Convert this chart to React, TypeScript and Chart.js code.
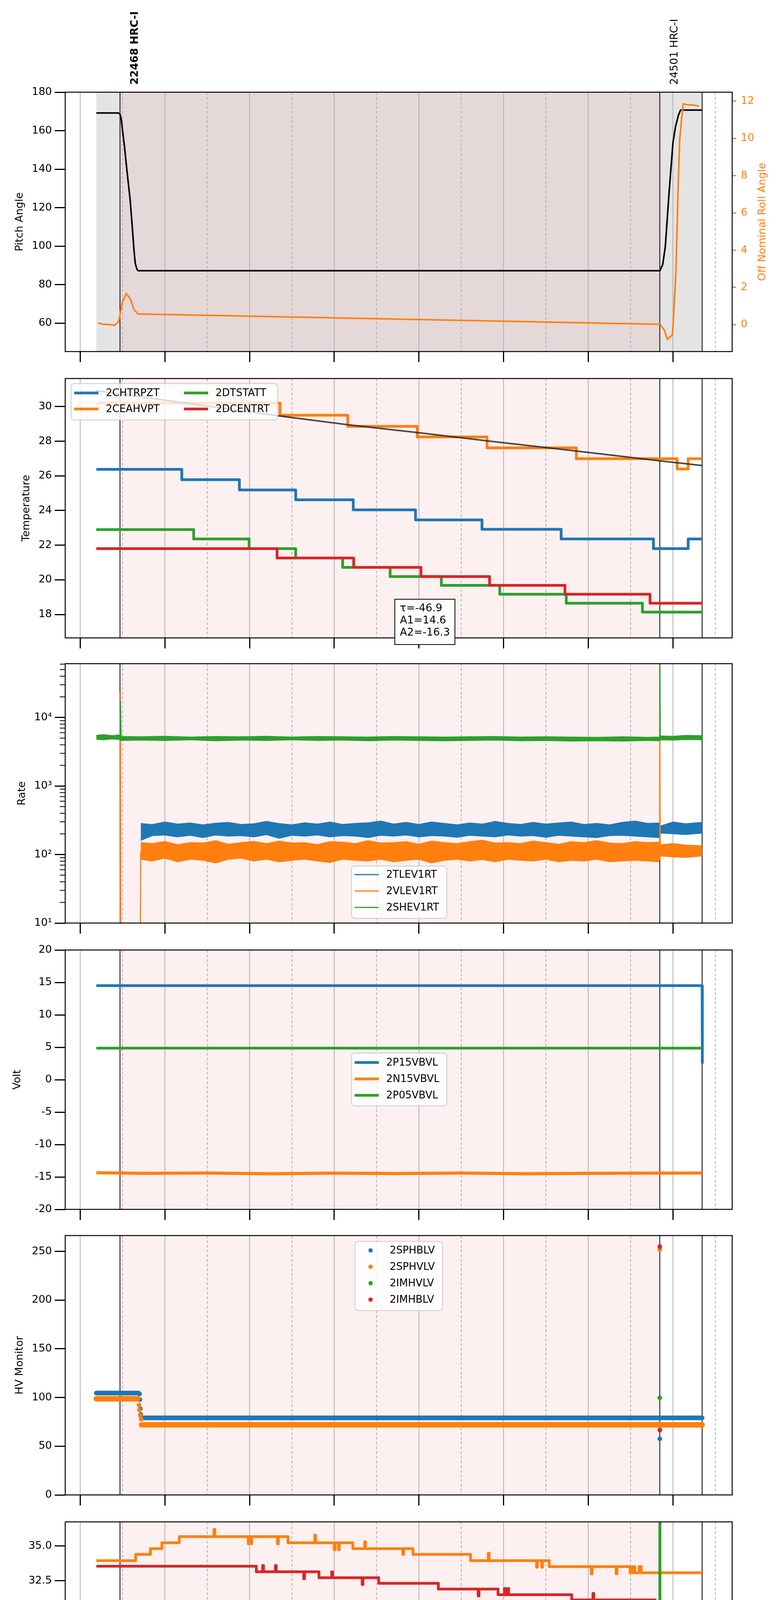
import { useEffect, useRef } from 'react';
import { Chart, registerables } from 'chart.js';

Chart.register(...registerables);
Chart.defaults.font.family = "'DejaVu Sans', sans-serif";
Chart.defaults.color = '#000';

// ---------------- time axis (hours of the day) ----------------
const majorHours = [0, 2, 4, 6, 8, 10, 12, 14];
const minorHours = [1, 3, 5, 7, 9, 11, 13, 15];
const dateLabel = '2021-02-11 (042)';

// observations
const obsIds = ['22468 HRC-I', '24501 HRC-I'];
const obsStart = [0.94, 13.69];
const obsBold = [true, false];
const obsLines = [0.94, 13.69, 14.69];
const slewSpans = [[0.38, 0.94], [13.69, 14.69]];
const obsSpan = [0.94, 13.69];

// ---------------- panel 1: pitch / roll ----------------
const pitchTicks = [60, 80, 100, 120, 140, 160, 180];
const rollTicks = [0, 2, 4, 6, 8, 10, 12];
const pitchHours = [0.38, 0.9, 0.94, 0.97, 1.0, 1.05, 1.1, 1.18, 1.23, 1.27, 1.3, 1.34, 1.37, 13.69, 13.76, 13.82, 13.91, 14.0, 14.06, 14.13, 14.18, 14.7];
const pitchDeg = [169.2, 169.2, 168.6, 166, 160, 151, 140, 124, 110, 98, 91, 88, 87.2, 87.2, 90.5, 99.7, 128, 153.5, 162, 168, 170.7, 170.7];
const rollHours = [0.42, 0.55, 0.64, 0.81, 0.91, 1.0, 1.09, 1.19, 1.27, 1.37, 13.7, 13.79, 13.87, 13.99, 14.07, 14.12, 14.16, 14.24, 14.34, 14.46, 14.62];
const rollDeg = [0.1, 0.02, 0.02, -0.03, 0.18, 1.25, 1.67, 1.36, 0.8, 0.58, 0.02, -0.26, -0.79, -0.53, 2.69, 7.1, 9.93, 11.86, 11.8, 11.8, 11.73];

// ---------------- panel 2: temperature ----------------
const tempTicks = [18, 20, 22, 24, 26, 28, 30];
const chtrpzt = [[0.38, 26.38], [2.4, 25.78], [3.76, 25.19], [5.09, 24.62], [6.45, 24.04], [7.92, 23.46], [9.49, 22.92], [11.36, 22.36], [13.54, 21.8], [14.36, 22.36], [14.69, 22.36]];
const ceahvpt = [[0.38, 30.2], [4.72, 29.5], [6.32, 28.86], [7.96, 28.25], [9.61, 27.62], [11.72, 26.99], [14.1, 26.4], [14.36, 26.99], [14.69, 26.99]];
const dtstatt = [[0.38, 22.9], [2.68, 22.36], [3.99, 21.8], [5.09, 21.26], [6.2, 20.72], [7.32, 20.19], [8.53, 19.68], [9.91, 19.17], [11.48, 18.65], [13.28, 18.14], [14.69, 18.14]];
const dcentrt = [[0.38, 21.8], [4.65, 21.26], [6.46, 20.72], [8.05, 20.19], [9.67, 19.68], [11.45, 19.17], [13.46, 18.65], [14.69, 18.65]];
const fitHours = [0.38, 2.5, 4.7, 6.3, 8.0, 9.8, 11.63, 13.69, 14.69];
const fitTemp = [30.92, 30.2, 29.46, 28.96, 28.49, 27.97, 27.46, 26.87, 26.6];
const fitParams = ['\u03c4=-46.9', 'A1=14.6', 'A2=-16.3'];

// ---------------- panel 3: rates ----------------
const rateTicks = [10, 100, 1000, 10000];
const rateTickLabels = ['10\u00b9', '10\u00b2', '10\u00b3', '10\u2074'];
const rateMinorTicks = [20, 30, 40, 50, 60, 70, 80, 90, 200, 300, 400, 500, 600, 700, 800, 900, 2000, 3000, 4000, 5000, 6000, 7000, 8000, 9000, 20000, 30000, 40000, 50000, 60000];
const rateHours = [1.43, 1.7, 2.0, 2.3, 2.6, 2.9, 3.2, 3.5, 3.8, 4.1, 4.4, 4.7, 5.0, 5.3, 5.6, 5.9, 6.2, 6.5, 6.8, 7.1, 7.4, 7.7, 8.0, 8.3, 8.6, 8.9, 9.2, 9.5, 9.8, 10.1, 10.4, 10.7, 11.0, 11.3, 11.6, 11.9, 12.2, 12.5, 12.8, 13.1, 13.4, 13.67, 13.71, 14.0, 14.3, 14.69];
const tlevHigh = [285, 275, 300, 280, 290, 272, 288, 296, 276, 282, 306, 284, 272, 292, 280, 300, 276, 286, 292, 310, 280, 296, 276, 300, 286, 272, 290, 280, 306, 286, 276, 296, 280, 290, 300, 276, 286, 272, 296, 310, 286, 290, 262, 300, 282, 296];
const tlevLow = [160, 188, 192, 180, 190, 176, 192, 185, 188, 180, 194, 172, 190, 185, 192, 180, 188, 185, 176, 190, 185, 192, 180, 188, 185, 178, 190, 185, 180, 192, 185, 188, 178, 190, 185, 180, 176, 188, 190, 185, 180, 176, 205, 200, 195, 205];
const vlevHigh = [150, 145, 156, 140, 150, 148, 160, 142, 150, 156, 145, 158, 148, 150, 140, 155, 152, 145, 160, 148, 150, 155, 142, 158, 150, 145, 155, 162, 148, 150, 145, 158, 150, 142, 155, 150, 160, 148, 145, 155, 150, 152, 140, 145, 138, 135];
const vlevLow = [85, 80, 88, 78, 85, 82, 75, 85, 88, 80, 85, 78, 82, 85, 80, 76, 85, 82, 80, 85, 78, 82, 85, 75, 82, 85, 80, 84, 78, 85, 82, 80, 85, 78, 82, 80, 85, 78, 80, 82, 80, 78, 95, 92, 90, 95];
const vlevSpikes = [[0.942, 5], [0.95, 23000], [0.958, 5], [1.42, 5], [1.43, 110], [13.69, 110], [13.692, 4900], [13.7, 110]];
const shevHours = [0.38, 0.55, 0.75, 0.93, 0.97, 1.4, 2.0, 2.6, 3.2, 3.8, 4.4, 5.0, 5.6, 6.2, 6.8, 7.4, 8.0, 8.6, 9.2, 9.8, 10.4, 11.0, 11.6, 12.2, 12.8, 13.4, 13.68, 13.72, 14.0, 14.3, 14.69];
const shevHigh = [5500, 5650, 5450, 5600, 5300, 5250, 5350, 5200, 5300, 5250, 5350, 5200, 5300, 5250, 5200, 5300, 5250, 5200, 5250, 5300, 5200, 5250, 5200, 5150, 5250, 5150, 5200, 5400, 5350, 5500, 5450];
const shevLow = [4800, 4700, 4850, 4750, 4600, 4650, 4600, 4700, 4550, 4650, 4600, 4700, 4600, 4650, 4550, 4650, 4600, 4550, 4600, 4650, 4550, 4600, 4500, 4550, 4500, 4600, 4550, 4700, 4650, 4750, 4700];
const shevSpikes = [[0.94, 5000], [0.95, 17400], [0.965, 4900], [13.685, 4900], [13.69, 200000], [13.7, 5000]];

// ---------------- panel 4: voltages ----------------
const voltTicks = [-20, -15, -10, -5, 0, 5, 10, 15, 20];
const p15vbvl = [[0.38, 14.51], [14.69, 14.51], [14.695, 2.6]];
const n15vbvl = [[0.38, -14.35], [1.5, -14.45], [3.0, -14.4], [4.5, -14.5], [6.0, -14.42], [7.5, -14.48], [9.0, -14.4], [10.5, -14.5], [12.0, -14.45], [13.5, -14.42], [14.69, -14.4]];
const p05vbvl = [[0.38, 4.86], [14.69, 4.86]];

// ---------------- panel 5: HV monitor ----------------
const hvTicks = [0, 50, 100, 150, 200, 250];
const sphblvTrace = [[0.38, 104.6], [1.38, 104.6], [1.42, null], [1.46, 79.1], [14.69, 79.1]];
const sphblvDots = [[1.4, 103.7], [1.41, 97.9], [1.42, 88.3], [1.43, 82.6], [13.69, 57.6]];
const sphvlvTrace = [[0.38, 98.7], [1.36, 98.7], [1.4, null], [1.45, 72], [14.69, 72]];
const sphvlvDots = [[1.37, 98.9], [1.39, 92.2], [1.4, 87.4], [1.42, 81.6], [1.44, 77.8], [13.69, 252]];
const imhvlvDots = [[13.69, 99.8]];
const imhblvDots = [[13.69, 255], [13.69, 66.6]];

// ---------------- panel 6: detector temperatures ----------------
const detTicks = [20, 22.5, 25, 27.5, 30, 32.5, 35];
const spinatm = [[0.38, 20.98], [6.05, 20.28], [8.75, 19.6], [11.4, 18.93], [14.38, 18.3], [14.69, 18.3]];
const sphvatm = [[0.38, 33.95], [1.31, 34.4], [1.66, 34.81], [1.93, 35.23], [2.34, 35.67], [3.16, 36.2], [3.18, 35.67], [3.97, 35.16], [3.99, 35.67], [4.03, 35.16], [4.05, 35.67], [4.66, 35.16], [4.68, 35.67], [4.91, 35.23], [5.54, 35.77], [5.56, 35.23], [6.0, 34.73], [6.02, 35.23], [6.1, 34.73], [6.12, 35.23], [6.44, 34.81], [6.72, 35.3], [6.74, 34.81], [7.62, 34.4], [7.64, 34.81], [7.86, 34.4], [9.22, 33.95], [9.64, 34.49], [9.66, 33.95], [10.78, 33.48], [10.8, 33.95], [10.9, 33.48], [10.92, 33.95], [11.08, 33.52], [12.07, 33.0], [12.09, 33.52], [12.66, 33.0], [12.68, 33.52], [12.99, 33.08], [13.05, 33.52], [13.1, 33.08], [13.2, 33.52], [13.25, 33.08], [14.69, 33.08]];
const iminatm = [[0.38, 22.45], [3.4, 21.73], [5.58, 21.02], [7.48, 20.28], [9.49, 19.6], [11.81, 18.93], [13.685, 18.93], [13.69, 40], [13.695, 18.93], [14.58, 18.3], [14.69, 18.3]];
const imhvatm = [[0.38, 33.55], [4.16, 33.15], [4.31, 33.6], [4.33, 33.15], [4.61, 33.6], [4.63, 33.15], [5.28, 32.65], [5.3, 33.15], [5.64, 32.72], [5.94, 33.15], [5.96, 32.72], [6.66, 32.24], [6.68, 32.72], [7.05, 32.32], [8.46, 31.91], [9.4, 31.42], [9.42, 31.91], [9.87, 31.5], [10.02, 31.95], [10.04, 31.5], [10.1, 31.95], [10.12, 31.5], [11.61, 31.13], [12.11, 31.6], [12.13, 31.13], [12.99, 30.65], [13.01, 31.13], [13.22, 30.65], [13.24, 31.13], [13.58, 30.73], [13.685, 30.73], [13.69, 0], [13.695, 30.73], [14.69, 30.73]];

// ---------------- panel 7: FEA temperatures ----------------
const feaTicks = [14, 16, 18, 20, 22, 24, 26];
const fhtrmzt = [[0.38, 25.8], [1.75, 25.2], [2.46, 24.63], [3.19, 24.05], [3.93, 23.49], [4.69, 22.92], [5.54, 22.4], [6.46, 21.86], [7.42, 21.29], [8.55, 20.75], [9.79, 20.21], [11.31, 19.69], [13.08, 19.16], [14.53, 19.69], [14.69, 19.69]];
const fradpyt = [[0.38, 21.29], [1.34, 20.75], [1.6, 20.21], [1.93, 19.69], [2.4, 19.17], [3.01, 18.66], [3.66, 18.16], [4.36, 17.66], [5.13, 17.17], [5.93, 16.68], [6.84, 16.18], [7.85, 15.71], [9.02, 15.24], [10.4, 14.76], [12.02, 14.3], [14.2, 14.76], [14.52, 15.24], [14.69, 15.24]];
const fepratm = [[0.38, 27.0], [2.36, 26.2], [3.52, 25.39], [4.67, 24.62], [5.96, 23.88], [7.4, 23.15], [9.1, 22.42], [11.22, 21.7], [13.685, 21.7], [13.69, 40], [13.692, 19.9], [13.695, 21.7], [14.69, 21.7]];
const fe00atm = [[0.38, 24.96], [1.58, 25.35], [1.595, 24.61], [1.85, 25.35], [1.865, 24.61], [1.89, 24.24], [1.905, 24.61], [2.11, 24.26], [2.125, 24.61], [2.22, 24.28], [2.34, 25.35], [2.35, 23.59], [2.36, 24.28], [2.61, 23.97], [2.99, 23.25], [3.005, 23.97], [3.11, 22.6], [3.125, 23.97], [3.19, 23.64], [3.73, 23.3], [3.87, 22.92], [3.885, 23.3], [3.99, 21.97], [4.005, 23.3], [4.08, 24.34], [4.095, 23.3], [4.16, 24.0], [4.175, 23.3], [4.28, 22.99], [4.67, 23.69], [4.685, 22.99], [4.93, 23.69], [4.945, 22.67], [5.4, 22.34], [5.42, 21.99], [5.435, 22.34], [5.69, 23.38], [5.705, 22.34], [5.75, 23.69], [5.76, 21.99], [5.77, 22.34], [6.08, 22.71], [6.095, 22.02], [6.6, 22.4], [6.615, 22.02], [6.84, 21.71], [6.99, 21.34], [7.005, 21.71], [7.42, 22.09], [7.435, 21.71], [7.69, 21.4], [7.96, 20.43], [7.975, 21.4], [8.22, 20.43], [8.235, 21.4], [8.4, 21.1], [8.67, 22.4], [8.685, 21.1], [8.99, 22.09], [9.0, 20.12], [9.01, 21.1], [9.28, 20.79], [9.4, 21.47], [9.415, 20.79], [9.46, 22.09], [9.475, 20.79], [9.61, 21.16], [9.625, 20.79], [9.85, 21.47], [9.86, 19.83], [9.87, 20.79], [10.28, 20.47], [10.46, 20.85], [10.475, 20.47], [10.75, 20.12], [10.765, 20.47], [11.16, 21.78], [11.17, 19.56], [11.18, 20.47], [11.34, 19.56], [11.355, 20.47], [11.46, 20.17], [11.72, 20.54], [11.735, 20.17], [12.2, 20.85], [12.215, 20.17], [12.48, 19.83], [12.495, 20.17], [12.69, 19.88], [12.99, 20.23], [13.005, 19.88], [13.4, 20.85], [13.415, 19.88], [13.58, 21.47], [13.59, 19.25], [13.6, 19.88], [13.685, 19.88], [13.69, 0], [13.695, 19.88], [14.69, 19.88]];

// ---------------- layout & style ----------------
const BLUE = '#1f77b4';
const ORANGE = '#ff7f0e';
const GREEN = '#2ca02c';
const RED = '#d62728';
const PINK = '#fdf0f0';
const MAUVE = '#e4d8d8';
const GREY = '#e4e4e4';
const FONT = "'DejaVu Sans', sans-serif";
const PAGE_W = 2000;
const PAGE_H = 5400;
const PLOT_LEFT = 167;
const PLOT_RIGHT = 1875;
const PANEL_TOPS = [236, 969, 1699, 2432, 3163, 3896, 4628];
const PANEL_H = 664;
const X_MIN = -0.354;
const X_MAX = 15.4;

const pts = (a: any[]) => a.map(([x, y]) => ({ x, y }));
const zip = (h: number[], v: number[]) => h.map((x, i) => ({ x, y: v[i] }));
const hourLabel = (h: number) => `${String(h).padStart(2, '0')}h`;

function series(label: string, color: string, data: any[], width: number, extra: any = {}) {
  return {
    label, data, borderColor: color, backgroundColor: color, borderWidth: width,
    pointRadius: 0, pointHoverRadius: 0, fill: false, clip: 0, tension: 0,
    borderJoinStyle: 'round', borderCapStyle: 'butt', inLegend: true, ...extra,
  };
}
// stepped: true -> each value holds until the next point
const steps = (label: string, color: string, data: any[], width = 7) =>
  series(label, color, pts(data), width, { stepped: true });
const dots = (label: string, color: string, data: any[]) =>
  series(label, color, pts(data), 0, { showLine: false, pointRadius: 6, pointBorderWidth: 0, pointBackgroundColor: color, legendKind: 'dot' });

function leftAxis(title: string, titleX: number, min: number, max: number, ticks: number[], fmt: (v: number) => string, type = 'linear') {
  return {
    type, position: 'left', min, max,
    afterBuildTicks: (s: any) => { s.ticks = ticks.map(v => ({ value: v })); },
    afterFit: (s: any) => { s.width = PLOT_LEFT; },
    grid: { drawOnChartArea: false, drawTicks: true, tickLength: 27, tickWidth: 3, tickColor: '#000' },
    border: { display: false },
    ticks: { color: '#000', font: { size: 27 }, padding: 7, autoSkip: false, callback: (v: number) => fmt(v) },
    title: { display: true, text: title, color: '#000', font: { size: 27 }, padding: { top: titleX - 16.2, bottom: 0 } },
  };
}

function timeAxis(last: boolean, bottomSpace: number) {
  return {
    type: 'linear', position: 'bottom', min: X_MIN, max: X_MAX,
    afterBuildTicks: (s: any) => { s.ticks = majorHours.map(v => ({ value: v })); },
    afterFit: (s: any) => { s.height = bottomSpace; },
    grid: { drawOnChartArea: false, drawTicks: true, tickLength: 27, tickWidth: 3, tickColor: '#000' },
    border: { display: false },
    ticks: { color: '#000', font: { size: 27 }, padding: 8, maxRotation: 0, autoSkip: false, callback: (v: number) => (last ? hourLabel(v) : '') },
    title: { display: last, text: dateLabel, color: '#000', font: { size: 31 }, padding: { top: 0, bottom: 3 } },
  };
}

const rollAxis = {
  type: 'linear', position: 'right', min: -1.44, max: 12.48,
  afterBuildTicks: (s: any) => { s.ticks = rollTicks.map(v => ({ value: v })); },
  afterFit: (s: any) => { s.width = PAGE_W - PLOT_RIGHT; },
  grid: { drawOnChartArea: false, drawTicks: true, tickLength: 10, tickWidth: 3, tickColor: ORANGE },
  border: { display: false },
  ticks: { color: ORANGE, font: { size: 27 }, padding: 12, callback: (v: number) => String(v) },
  title: { display: false },
};

const int = (v: number) => String(v);
const obsBand = [{ from: obsSpan[0], to: obsSpan[1], color: PINK }];

const PANELS: any[] = [
  {
    y: leftAxis('Pitch Angle', 51, 45.2, 180, pitchTicks, int),
    y2: rollAxis,
    datasets: [
      series('Pitch', '#000', zip(pitchHours, pitchDeg), 4, { inLegend: false }),
      series('Roll', ORANGE, zip(rollHours, rollDeg), 4, { inLegend: false, yAxisID: 'y2' }),
    ],
    bands: [
      { from: slewSpans[0][0], to: slewSpans[0][1], color: GREY },
      { from: obsSpan[0], to: obsSpan[1], color: MAUVE },
      { from: slewSpans[1][0], to: slewSpans[1][1], color: GREY },
    ],
  },
  {
    y: leftAxis('Temperature', 68, 16.65, 31.62, tempTicks, int),
    datasets: [
      steps('2CHTRPZT', BLUE, chtrpzt),
      steps('2CEAHVPT', ORANGE, ceahvpt),
      steps('2DTSTATT', GREEN, dtstatt),
      steps('2DCENTRT', RED, dcentrt),
      series('fit', 'rgba(45,40,40,0.85)', zip(fitHours, fitTemp), 4, { inLegend: false, cubicInterpolationMode: 'monotone' }),
    ],
    bands: obsBand,
    legend: { left: 15, top: 13, w: 529, h: 93, colW: 281, rowTop: 24, rowGap: 41, rows: 2 },
    textBox: { left: 844, top: 565, w: 154, h: 116, lines: fitParams },
  },
  {
    y: leftAxis('Rate', 57, 10, 61000, rateTicks, (v: number) => rateTickLabels[rateTicks.indexOf(v)] ?? '', 'logarithmic'),
    datasets: [
      series('2TLEV1RT', BLUE, zip(rateHours, tlevHigh), 1.5, { fill: '+1', legendWidth: 3 }),
      series('tlow', BLUE, zip(rateHours, tlevLow), 1.5, { inLegend: false }),
      series('2VLEV1RT', ORANGE, zip(rateHours, vlevHigh), 1.5, { fill: '+1', legendWidth: 3 }),
      series('vlow', ORANGE, zip(rateHours, vlevLow), 1.5, { inLegend: false }),
      series('vspk', ORANGE, pts(vlevSpikes), 3, { inLegend: false }),
      series('2SHEV1RT', GREEN, zip(shevHours, shevHigh), 1.5, { fill: '+1', legendWidth: 3 }),
      series('slow', GREEN, zip(shevHours, shevLow), 1.5, { inLegend: false }),
      series('sspk', GREEN, pts(shevSpikes), 3, { inLegend: false }),
    ],
    bands: obsBand,
    logMinor: rateMinorTicks,
    legend: { left: 733, top: 518, w: 244, h: 134, colW: 0, rowTop: 22, rowGap: 42, rows: 3 },
  },
  {
    y: leftAxis('Volt', 45, -20, 20, voltTicks, int),
    datasets: [
      series('2P15VBVL', BLUE, pts(p15vbvl), 7),
      series('2N15VBVL', ORANGE, pts(n15vbvl), 8, { legendWidth: 7 }),
      series('2P05VBVL', GREEN, pts(p05vbvl), 7),
    ],
    bands: obsBand,
    legend: { left: 733, top: 264, w: 244, h: 135, colW: 0, rowTop: 24, rowGap: 42, rows: 3 },
  },
  {
    y: leftAxis('HV Monitor', 51, 0, 266.3, hvTicks, int),
    datasets: [
      series('bt', BLUE, pts(sphblvTrace), 12, { inLegend: false, borderCapStyle: 'round' }),
      dots('2SPHBLV', BLUE, sphblvDots),
      series('ot', ORANGE, pts(sphvlvTrace), 14, { inLegend: false, borderCapStyle: 'round' }),
      dots('2SPHVLV', ORANGE, sphvlvDots),
      dots('2IMHVLV', GREEN, imhvlvDots),
      dots('2IMHBLV', RED, imhblvDots),
    ],
    bands: obsBand,
    legend: { left: 742, top: 15, w: 224, h: 177, colW: 0, rowTop: 23, rowGap: 42, rows: 4 },
  },
  {
    y: leftAxis('Detector Temp', 43, 18.12, 36.73, detTicks, (v: number) => v.toFixed(1)),
    datasets: [
      steps('2SPINATM', BLUE, spinatm),
      steps('2SPHVATM', ORANGE, sphvatm),
      steps('2IMINATM', GREEN, iminatm),
      steps('2IMHVATM', RED, imhvatm),
    ],
    bands: obsBand,
    legend: { left: 732, top: 244, w: 246, h: 176, colW: 0, rowTop: 23, rowGap: 42, rows: 4 },
  },
  {
    y: leftAxis('FEA Temp', 68, 13.3, 26.9, feaTicks, int),
    datasets: [
      steps('2FHTRMZT', BLUE, fhtrmzt),
      steps('2FRADPYT', ORANGE, fradpyt),
      steps('2FEPRATM', GREEN, fepratm),
      steps('2FE00ATM', RED, fe00atm),
    ],
    bands: obsBand,
    legend: { left: 15, top: 472, w: 252, h: 177, colW: 0, rowTop: 24, rowGap: 42, rows: 4 },
  },
];

const panelGeom = (i: number) => {
  const last = i === PANELS.length - 1;
  const padTop = i === 0 ? PANEL_TOPS[0] : 40;
  const bottom = last ? PAGE_H - (PANEL_TOPS[i] + PANEL_H) : 40;
  return { padTop, bottom, top: PANEL_TOPS[i] - padTop, height: padTop + PANEL_H + bottom };
};

function drawLegend(ctx: CanvasRenderingContext2D, a: any, lg: any, items: any[]) {
  const x0 = a.left + lg.left;
  const y0 = a.top + lg.top;
  ctx.beginPath();
  if ((ctx as any).roundRect) (ctx as any).roundRect(x0, y0, lg.w, lg.h, 8);
  else ctx.rect(x0, y0, lg.w, lg.h);
  ctx.fillStyle = 'rgba(255,255,255,0.8)';
  ctx.fill();
  ctx.strokeStyle = 'rgba(204,204,204,0.85)';
  ctx.lineWidth = 2.5;
  ctx.stroke();
  items.forEach((it, i) => {
    const col = Math.floor(i / lg.rows);
    const row = i % lg.rows;
    const bx = x0 + col * lg.colW;
    const cy = y0 + lg.rowTop + row * lg.rowGap;
    if (it.kind === 'dot') {
      ctx.beginPath();
      ctx.arc(bx + 40, cy, 5.5, 0, Math.PI * 2);
      ctx.fillStyle = it.color;
      ctx.fill();
    } else {
      ctx.beginPath();
      ctx.moveTo(bx + 8, cy);
      ctx.lineTo(bx + 70, cy);
      ctx.strokeStyle = it.color;
      ctx.lineWidth = it.lw;
      ctx.lineCap = 'butt';
      ctx.stroke();
    }
    ctx.fillStyle = '#000';
    ctx.font = `26px ${FONT}`;
    ctx.textAlign = 'left';
    ctx.textBaseline = 'middle';
    ctx.fillText(it.label, bx + 89, cy + 1);
  });
}

function decor(p: any, items: any[], first: boolean, last: boolean) {
  return {
    id: 'decor',
    beforeDatasetsDraw(chart: any) {
      const { ctx, chartArea: a } = chart;
      const xs = chart.scales.x;
      ctx.save();
      ctx.beginPath();
      ctx.rect(a.left, a.top, a.right - a.left, a.bottom - a.top);
      ctx.clip();
      for (const b of p.bands) {
        const x0 = xs.getPixelForValue(b.from);
        const x1 = xs.getPixelForValue(b.to);
        ctx.fillStyle = b.color;
        ctx.fillRect(x0, a.top, x1 - x0, a.bottom - a.top);
      }
      ctx.strokeStyle = '#b0b0b0';
      ctx.lineWidth = 2;
      for (const h of [...majorHours, ...minorHours]) {
        ctx.setLineDash(h % 2 ? [7, 5] : []);
        const px = xs.getPixelForValue(h);
        ctx.beginPath();
        ctx.moveTo(px, a.top);
        ctx.lineTo(px, a.bottom);
        ctx.stroke();
      }
      ctx.setLineDash([]);
      ctx.strokeStyle = '#000';
      ctx.lineWidth = 2;
      for (const h of obsLines) {
        const px = xs.getPixelForValue(h);
        ctx.beginPath();
        ctx.moveTo(px, a.top);
        ctx.lineTo(px, a.bottom);
        ctx.stroke();
      }
      ctx.restore();
    },
    afterDatasetsDraw(chart: any) {
      const { ctx, chartArea: a } = chart;
      const xs = chart.scales.x;
      ctx.save();
      if (p.legend) drawLegend(ctx, a, p.legend, items);
      ctx.strokeStyle = '#000';
      ctx.lineWidth = 2.5;
      ctx.strokeRect(a.left, a.top, a.right - a.left, a.bottom - a.top);
      if (p.textBox) {
        const tb = p.textBox;
        const x0 = a.left + tb.left;
        const y0 = a.top + tb.top;
        ctx.fillStyle = '#fff';
        ctx.fillRect(x0, y0, tb.w, tb.h);
        ctx.lineWidth = 2;
        ctx.strokeRect(x0, y0, tb.w, tb.h);
        ctx.fillStyle = '#000';
        ctx.font = `27px ${FONT}`;
        ctx.textAlign = 'left';
        ctx.textBaseline = 'middle';
        tb.lines.forEach((t: string, i: number) => ctx.fillText(t, x0 + 13, y0 + 24 + i * 31));
      }
      if (p.logMinor) {
        const ys = chart.scales.y;
        ctx.strokeStyle = '#000';
        ctx.lineWidth = 2;
        for (const v of p.logMinor) {
          const py = ys.getPixelForValue(v);
          if (py < a.top || py > a.bottom) continue;
          ctx.beginPath();
          ctx.moveTo(a.left, py);
          ctx.lineTo(a.left - 14, py);
          ctx.stroke();
        }
      }
      if (last) {
        ctx.fillStyle = '#000';
        ctx.font = `19px ${FONT}`;
        ctx.textAlign = 'center';
        ctx.textBaseline = 'top';
        for (const h of minorHours) ctx.fillText(hourLabel(h), xs.getPixelForValue(h), a.bottom + 6);
      }
      if (first) {
        ctx.fillStyle = ORANGE;
        ctx.font = `27px ${FONT}`;
        ctx.textAlign = 'center';
        ctx.textBaseline = 'middle';
        ctx.save();
        ctx.translate(1953, (a.top + a.bottom) / 2);
        ctx.rotate(-Math.PI / 2);
        ctx.fillText('Off Nominal Roll Angle', 0, 0);
        ctx.restore();
        ctx.fillStyle = '#000';
        obsIds.forEach((id, i) => {
          ctx.save();
          ctx.translate(xs.getPixelForValue(obsStart[i]) + 38.5, a.top - 19);
          ctx.rotate(-Math.PI / 2);
          ctx.font = `${obsBold[i] ? 'bold ' : ''}27px ${FONT}`;
          ctx.textAlign = 'left';
          ctx.textBaseline = 'middle';
          ctx.fillText(id, 0, 0);
          ctx.restore();
        });
      }
      ctx.restore();
    },
  };
}

function buildConfig(p: any, i: number): any {
  const last = i === PANELS.length - 1;
  const g = panelGeom(i);
  const datasets = p.datasets.map((d: any, k: number) => ({ ...d, order: p.datasets.length - k }));
  const items = p.datasets
    .filter((d: any) => d.inLegend)
    .map((d: any) => ({ label: d.label, color: d.borderColor, lw: d.legendWidth ?? d.borderWidth, kind: d.legendKind || 'line' }));
  const scales: any = { x: timeAxis(last, g.bottom), y: p.y };
  if (p.y2) scales.y2 = p.y2;
  return {
    type: 'line',
    data: { datasets },
    options: {
      responsive: false,
      animation: false,
      devicePixelRatio: 1,
      events: [],
      layout: { padding: { top: g.padTop, left: 0, bottom: 0, right: p.y2 ? 0 : PAGE_W - PLOT_RIGHT } },
      plugins: { legend: { display: false }, tooltip: { enabled: false } },
      scales,
    },
    plugins: [decor(p, items, i === 0, last)],
  };
}

export default function App() {
  const refs = useRef<(HTMLCanvasElement | null)[]>([]);

  useEffect(() => {
    const charts = PANELS.map((p, i) => new Chart(refs.current[i] as HTMLCanvasElement, buildConfig(p, i)));
    return () => charts.forEach(c => c.destroy());
  }, []);

  return (
    <div style={{ position: 'absolute', left: 0, top: 0, width: PAGE_W, height: PAGE_H, background: '#fff' }}>
      {PANELS.map((_, i) => {
        const g = panelGeom(i);
        return (
          <canvas
            key={i}
            ref={el => { refs.current[i] = el; }}
            width={PAGE_W}
            height={g.height}
            style={{ position: 'absolute', left: 0, top: g.top, width: PAGE_W, height: g.height }}
          />
        );
      })}
    </div>
  );
}
